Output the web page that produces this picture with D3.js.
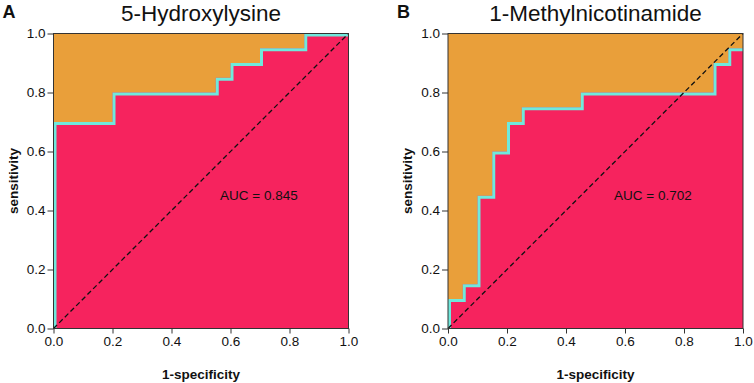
<!DOCTYPE html>
<html lang="en">
<head>
    <meta charset="utf-8">
    <title>ROC curves</title>
    <script type="text/javascript" src="https://d3js.org/d3.v7.min.js"></script>
    <style>
        body { margin: 0; background: #fff; }
        text { font-family: "Liberation Sans", Arial, sans-serif; fill: #111; }
        .tick line { stroke: #333; }
    </style>
</head>
<body>
<div id="container"></div>
<script type="text/javascript">
    const w = 754;
    const h = 383;

    // data
    const titles = ["5-Hydroxylysine", "1-Methylnicotinamide"];
    const letters = ["A", "B"];
    const aucLabels = ["AUC = 0.845", "AUC = 0.702"];
    const fprA = [0, 0, 0.2, 0.55, 0.6, 0.7, 0.85, 1];
    const tprA = [0, 0.7, 0.8, 0.85, 0.9, 0.95, 1, 1];
    const fprB = [0, 0, 0.05, 0.1, 0.15, 0.2, 0.25, 0.45, 0.9, 0.95, 1];
    const tprB = [0, 0.1, 0.15, 0.45, 0.6, 0.7, 0.75, 0.8, 0.9, 0.95, 1];
    const ticks = [0, 0.2, 0.4, 0.6, 0.8, 1.0];

    const svg = d3.select("div#container").append("svg")
        .attr("width", w).attr("height", h);

    const panels = [
        {x0: 53.5, fpr: fprA, tpr: tprA, aucX: 220},
        {x0: 448, fpr: fprB, tpr: tprB, aucX: 614}
    ];
    const pw = 295, plotTop = 33.5, plotBottom = 328.5;

    panels.forEach(function (p, i) {
        const x = d3.scaleLinear().domain([0, 1]).range([p.x0, p.x0 + pw]);
        const y = d3.scaleLinear().domain([0, 1]).range([plotBottom, plotTop]);
        const pts = p.fpr.map(function (f, k) { return [f, p.tpr[k]]; });
        const g = svg.append("g");

        g.append("clipPath").attr("id", "clip" + i)
            .append("rect").attr("x", x(0)).attr("y", y(1))
            .attr("width", x(1) - x(0)).attr("height", y(0) - y(1));

        // background (area above curve)
        g.append("rect").attr("x", x(0)).attr("y", y(1))
            .attr("width", x(1) - x(0)).attr("height", y(0) - y(1))
            .attr("fill", "#e99f3a");

        // area under the curve
        const area = d3.area().curve(d3.curveStepAfter)
            .x(function (d) { return x(d[0]); })
            .y0(y(0))
            .y1(function (d) { return y(d[1]); });
        g.append("path").datum(pts).attr("d", area).attr("fill", "#f6235e");

        // ROC line
        const line = d3.line().curve(d3.curveStepAfter)
            .x(function (d) { return x(d[0]); })
            .y(function (d) { return y(d[1]); });
        g.append("g").attr("clip-path", "url(#clip" + i + ")")
            .append("path").datum(pts).attr("d", line)
            .attr("transform", "translate(1.5,1.5)")
            .attr("fill", "none").attr("stroke", "#6fe9dc").attr("stroke-width", 3);

        // diagonal reference
        g.append("line").attr("x1", x(0)).attr("y1", y(0)).attr("x2", x(1)).attr("y2", y(1))
            .attr("stroke", "#111").attr("stroke-width", 1.3).attr("stroke-dasharray", "5,3");

        // frame
        g.append("rect").attr("x", x(0)).attr("y", y(1))
            .attr("width", x(1) - x(0)).attr("height", y(0) - y(1))
            .attr("fill", "none").attr("stroke", "#333").attr("stroke-width", 1);

        // axes
        const xa = g.append("g").attr("transform", "translate(0," + y(0) + ")")
            .call(d3.axisBottom(x).tickValues(ticks).tickFormat(d3.format(".1f")).tickSize(5).tickPadding(3));
        const ya = g.append("g").attr("transform", "translate(" + x(0) + ",0)")
            .call(d3.axisLeft(y).tickValues(ticks).tickFormat(d3.format(".1f")).tickSize(6).tickPadding(2));
        [xa, ya].forEach(function (a) {
            a.select(".domain").remove();
            a.attr("font-family", null).attr("font-size", null);
            a.selectAll(".tick text").style("font-size", "13.5px").style("fill", "#111");
        });

        // labels
        g.append("text")
            .attr("x", (x(0) + x(1)) / 2).attr("y", 20.5)
            .style("font-size", "22.5px")
            .attr("text-anchor", "middle").text(titles[i]);
        g.append("text")
            .attr("x", p.x0 - 51).attr("y", 18).style("font-size", "18px").style("font-weight", "bold")
            .text(letters[i]);
        g.append("text")
            .attr("x", (x(0) + x(1)) / 2).attr("y", 379)
            .style("font-size", "13.5px").style("font-weight", "bold")
            .attr("text-anchor", "middle").text("1-specificity");
        g.append("text")
            .attr("transform", "translate(" + (p.x0 - 36) + "," + ((y(0) + y(1)) / 2) + ") rotate(-90)")
            .style("font-size", "13.5px").style("font-weight", "bold")
            .attr("text-anchor", "middle").text("sensitivity");
        g.append("text")
            .attr("x", p.aucX).attr("y", 200).style("font-size", "13.5px")
            .text(aucLabels[i]);
    });
</script>
</body>
</html>
